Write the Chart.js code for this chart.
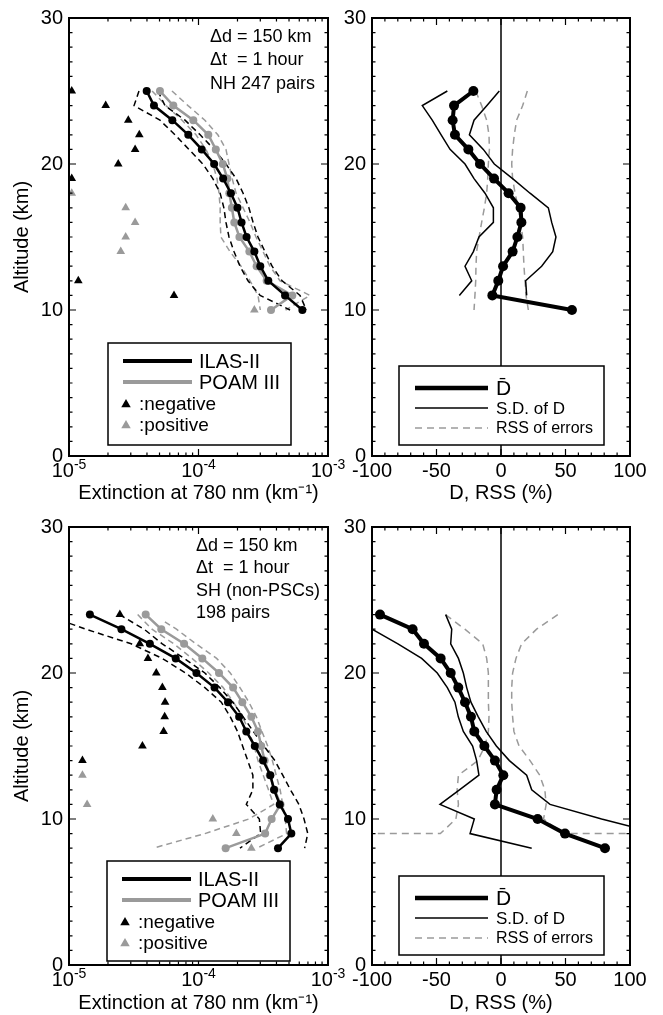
<!DOCTYPE html>
<html>
<head>
<meta charset="utf-8">
<script src="https://cdn.jsdelivr.net/npm/chart.js@4.4.1/dist/chart.umd.min.js"></script>
<style>
  body { margin: 0; background: #fff; }
  #wrap { position: relative; width: 663px; height: 1015px; overflow: hidden; }
  canvas { position: absolute; }
</style>
</head>
<body>
<div id="wrap">
  <canvas id="nhExt" width="350" height="510" style="left:0;top:0"></canvas>
  <canvas id="nhDiff" width="333" height="510" style="left:330px;top:0"></canvas>
  <canvas id="shExt" width="350" height="506" style="left:0;top:509px"></canvas>
  <canvas id="shDiff" width="333" height="506" style="left:330px;top:509px"></canvas>
</div>
<script>
// ---- NH extinction profiles (km^-1) ----
const altNH = [25, 24, 23, 22, 21, 20, 19, 18, 17, 16, 15, 14, 13, 12, 11, 10];
const ilasNH = [3.98e-5, 4.53e-5, 6.28e-5, 8.34e-5, 1.06e-4, 1.32e-4, 1.55e-4, 1.78e-4, 2.0e-4, 2.15e-4, 2.35e-4, 2.7e-4, 3.0e-4, 3.46e-4, 4.66e-4, 6.34e-4];
const poamNH = [5.04e-5, 6.39e-5, 9.12e-5, 1.19e-4, 1.36e-4, 1.54e-4, 1.67e-4, 1.73e-4, 1.81e-4, 1.89e-4, 2.07e-4, 2.47e-4, 2.81e-4, 3.36e-4, 5.3e-4, 3.63e-4];
const ilasLoNH = [3.47e-5, 3.18e-5, 5.04e-5, 6.58e-5, 8.44e-5, 1.08e-4, 1.29e-4, 1.47e-4, 1.57e-4, 1.63e-4, 1.72e-4, 1.88e-4, 2.09e-4, 2.41e-4, 2.99e-4, 5.09e-4];
const ilasHiNH = [4.86e-5, 5.51e-5, 7.87e-5, 1.03e-4, 1.32e-4, 1.63e-4, 1.95e-4, 2.21e-4, 2.45e-4, 2.64e-4, 2.88e-4, 3.26e-4, 3.70e-4, 4.42e-4, 6.08e-4, 6.8e-4];
const poamLoNH = [4.38e-5, 5.61e-5, 7.46e-5, 9.57e-5, 1.14e-4, 1.29e-4, 1.39e-4, 1.44e-4, 1.47e-4, 1.47e-4, 1.49e-4, 1.75e-4, 2.13e-4, 2.50e-4, 2.88e-4, 3.0e-4];
const poamHiNH = [6.24e-5, 8.3e-5, 1.12e-4, 1.41e-4, 1.63e-4, 1.72e-4, 1.82e-4, 1.95e-4, 2.21e-4, 2.50e-4, 2.78e-4, 3.15e-4, 3.56e-4, 4.26e-4, 7.26e-4, 4.7e-4];
const negAltNH = [25, 24, 23, 22, 21, 20, 19, 12, 11];
const negNH = [1.05e-5, 1.92e-5, 2.87e-5, 3.49e-5, 3.24e-5, 2.40e-5, 1.05e-5, 1.18e-5, 6.47e-5];
const posAltNH = [18, 17, 16, 15, 14, 10];
const posNH = [1.05e-5, 2.74e-5, 3.24e-5, 2.74e-5, 2.51e-5, 2.70e-4];

// ---- NH differences (%) ----
const altNHsd = [25, 24, 23, 22, 21, 20, 19, 18, 17, 16, 15, 14, 13, 12, 11];
const dbarNH = [-21.4, -36.4, -37.5, -35.7, -25.3, -16.3, -5.4, 5.9, 15.2, 15.8, 12.7, 9.0, 1.6, -2.1, -6.7, 55.0];
const sdLoNH = [-41.6, -61.0, -53.3, -46.4, -39.5, -27.9, -20.9, -12.4, -5.9, -5.9, -17.1, -21.4, -27.9, -22.7, -32.3];
const sdHiNH = [-1.3, -10.9, -20.9, -24.5, -13.7, -5.2, 9.0, 22.5, 36.7, 39.3, 42.6, 40.1, 31.5, 19.1, 19.9];
const rssLoNH = [-19.6, -15.0, -11.1, -9.3, -9.0, -9.8, -10.3, -11.1, -12.9, -15.0, -17.0, -18.9, -19.4, -19.6, -20.2, -20.9];
const rssHiNH = [20.4, 16.8, 12.1, 10.3, 9.0, 8.3, 9.0, 10.9, 13.4, 15.2, 16.8, 17.3, 17.8, 18.6, 19.4, 21.2];

// ---- SH (non-PSC) extinction profiles ----
const altSH = [24, 23, 22, 21, 20, 19, 18, 17, 16, 15, 14, 13, 12, 11, 10, 9, 8];
const ilasSH = [1.45e-5, 2.54e-5, 4.21e-5, 6.67e-5, 9.64e-5, 1.33e-4, 1.69e-4, 2.06e-4, 2.34e-4, 2.72e-4, 3.15e-4, 3.59e-4, 3.83e-4, 4.24e-4, 4.91e-4, 5.21e-4, 4.11e-4];
const poamSH = [3.91e-5, 5.16e-5, 7.74e-5, 1.07e-4, 1.44e-4, 1.85e-4, 2.18e-4, 2.56e-4, 2.88e-4, 3.05e-4, 3.24e-4, 3.55e-4, 3.87e-4, 4.3e-4, 3.67e-4, 3.27e-4, 1.62e-4];
const altSHlo = [23.4, 23, 22, 21, 20, 19, 18, 17, 16, 15, 14, 13, 12, 11, 10, 9, 8];
const ilasLoSH = [1.01e-5, 1.35e-5, 3.02e-5, 5.25e-5, 7.94e-5, 1.12e-4, 1.50e-4, 1.76e-4, 2.0e-4, 2.19e-4, 2.4e-4, 2.63e-4, 2.63e-4, 2.34e-4, 2.95e-4, 3.02e-4, 2.09e-4];
const ilasHiSH = [2.45e-5, 3.8e-5, 5.25e-5, 7.76e-5, 1.12e-4, 1.46e-4, 1.84e-4, 2.21e-4, 2.65e-4, 3.2e-4, 3.89e-4, 4.47e-4, 5.13e-4, 5.96e-4, 6.53e-4, 6.98e-4, 6.6e-4];
const poamLoSH = [3.39e-5, 4.37e-5, 6.46e-5, 8.91e-5, 1.20e-4, 1.55e-4, 1.86e-4, 2.19e-4, 2.45e-4, 2.69e-4, 2.88e-4, 3.16e-4, 3.47e-4, 3.80e-4, 2.45e-4, 1.12e-4, 4.47e-5];
const altSHhi = [23.5, 23, 22, 21, 20, 19, 18, 17, 16, 15, 14, 13, 12, 11, 10, 9, 8];
const poamHiSH = [5.5e-5, 6.76e-5, 9.55e-5, 1.38e-4, 1.76e-4, 2.09e-4, 2.45e-4, 2.8e-4, 3.09e-4, 3.42e-4, 3.72e-4, 3.98e-4, 4.27e-4, 4.47e-4, 4.68e-4, 4.79e-4, 2.82e-4];
const negAltSH = [24, 22, 21, 20, 19, 18, 17, 16, 15, 14];
const negSH = [2.47e-5, 3.52e-5, 4.07e-5, 4.72e-5, 5.26e-5, 5.52e-5, 5.48e-5, 5.38e-5, 3.69e-5, 1.27e-5];
const posAltSH = [13, 11, 10, 9, 8];
const posSH = [1.27e-5, 1.38e-5, 1.29e-4, 1.96e-4, 2.56e-4];

// ---- SH differences (%) ----
const dbarSH = [-93.8, -68.5, -59.7, -46.8, -39.0, -33.1, -27.9, -23.3, -20.7, -12.9, -4.7, 1.8, -3.4, -4.7, 28.4, 49.6, 80.6];
const altSHsdLo = [23, 22, 21, 20, 19, 18, 17, 16, 15, 14, 13, 12, 11, 10, 9, 8];
const sdLoSH = [-100, -79.9, -61.5, -49.4, -41.6, -35.7, -33.1, -29.2, -22.0, -18.9, -17.1, -32.2, -47.3, -20.7, -24.0, 23.8];
const altSHsdHi = [24, 23, 22, 21, 20, 19, 18, 17, 16, 15, 14, 13, 12, 11, 10, 9.5];
const sdHiSH = [-42.9, -38.2, -39.0, -33.0, -29.2, -26.6, -23.3, -17.6, -11.5, -3.6, 6.5, 19.9, 23.8, 38.0, 78.0, 100];
const altSHrss = [24, 23, 22, 21, 20, 19, 18, 17, 16, 15, 14, 13, 12, 11, 10, 9, 9];
const rssLoSH = [-43, -28, -14.2, -11.1, -9.8, -9.8, -9.8, -9.3, -9.8, -12.4, -18, -33, -34, -33, -35, -47, -100];
const rssHiSH = [44, 27.6, 16, 11.6, 9, 8.3, 8.3, 9, 10, 14, 22.5, 30, 34, 35, 33, 48, 100];

const FONT = "'Liberation Sans', Arial, Helvetica, sans-serif";
const GRAY = '#9a9a9a';
Chart.defaults.font.family = FONT;
Chart.defaults.color = '#000';

const SUP = { '-': '\u207B', '1': '\u00B9' };
const sup = s => String(s).split('').map(c => SUP[c] || c).join('');
const decadeOf = v => {
  const e = Math.log10(v);
  return Math.abs(e - Math.round(e)) < 1e-6 ? Math.round(e) : null;
};
const pts = (xs, ys) => xs.map((x, i) => ({ x, y: ys[i] }));

// inner tick marks: [value, isMajor]
const logTicks = [];
for (let e = -5; e < -3; e++) for (let m = 1; m < 10; m++) logTicks.push([m * Math.pow(10, e), m === 1]);
logTicks.push([1e-3, true]);
const pctTicks = [];
for (let v = -100; v <= 100; v += 10) pctTicks.push([v, v % 50 === 0]);

function tri(ctx, x, y, r) {
  ctx.beginPath();
  ctx.moveTo(x, y - r);
  ctx.lineTo(x + r * 0.95, y + r * 0.65);
  ctx.lineTo(x - r * 0.95, y + r * 0.65);
  ctx.closePath();
  ctx.fill();
}

const framePlugin = {
  id: 'frame',
  beforeDatasetsDraw(chart, args, o) {
    if (!o.zeroLine) return;
    const { ctx, chartArea: a, scales } = chart;
    const x0 = scales.x.getPixelForValue(0);
    ctx.save();
    ctx.strokeStyle = '#000';
    ctx.lineWidth = 1.5;
    ctx.beginPath();
    ctx.moveTo(x0, a.top);
    ctx.lineTo(x0, a.bottom);
    ctx.stroke();
    ctx.restore();
  },
  afterDatasetsDraw(chart, args, o) {
    const { ctx, chartArea: a, scales } = chart;
    ctx.save();
    ctx.strokeStyle = '#000';
    ctx.setLineDash([]);
    ctx.lineWidth = 1.2;
    ctx.beginPath();
    for (let v = 0; v <= 30; v++) {
      const y = scales.y.getPixelForValue(v);
      const len = v % 10 === 0 ? 7 : 3.5;
      ctx.moveTo(a.left, y); ctx.lineTo(a.left + len, y);
      ctx.moveTo(a.right, y); ctx.lineTo(a.right - len, y);
    }
    o.xTicks.forEach(([v, major]) => {
      const x = scales.x.getPixelForValue(v);
      const len = major ? 7 : 3.5;
      ctx.moveTo(x, a.bottom); ctx.lineTo(x, a.bottom - len);
      ctx.moveTo(x, a.top); ctx.lineTo(x, a.top + len);
    });
    ctx.stroke();
    ctx.lineWidth = 2;
    ctx.strokeRect(a.left, a.top, a.width, a.height);

    // decade labels written as 10 with a raised exponent
    if (o.decades) {
      ctx.fillStyle = '#000';
      ctx.textBaseline = 'alphabetic';
      ctx.textAlign = 'left';
      scales.x.ticks.forEach(t => {
        const e = decadeOf(t.value);
        if (e === null) return;
        const x = scales.x.getPixelForValue(t.value);
        const base = '10', exp = String(e);
        ctx.font = '20px ' + FONT;
        const wb = ctx.measureText(base).width;
        ctx.font = '14px ' + FONT;
        const we = ctx.measureText(exp).width;
        const x0 = x - (wb + we) / 2;
        ctx.font = '20px ' + FONT;
        ctx.fillText(base, x0, a.bottom + 21);
        ctx.font = '14px ' + FONT;
        ctx.fillText(exp, x0 + wb, a.bottom + 13);
      });
    }

    // campaign notes
    if (o.notes) {
      ctx.fillStyle = '#000';
      ctx.font = '18px ' + FONT;
      ctx.textBaseline = 'middle';
      ctx.textAlign = 'left';
      o.notes.lines.forEach((t, i) => ctx.fillText(t, a.left + o.notes.x, a.top + o.notes.y + i * o.notes.dy));
    }

    // boxed legend
    const lg = o.legend;
    const bx = a.left + lg.x, by = a.top + lg.y;
    ctx.fillStyle = '#fff';
    ctx.fillRect(bx, by, lg.w, lg.h);
    ctx.lineWidth = 1.5;
    ctx.strokeRect(bx, by, lg.w, lg.h);
    lg.rows.forEach(r => {
      const y = by + r.dy;
      if (r.tri) {
        ctx.fillStyle = r.color;
        tri(ctx, bx + r.sx, y, 5);
      } else {
        ctx.strokeStyle = r.color;
        ctx.lineWidth = r.width;
        ctx.setLineDash(r.dash || []);
        ctx.beginPath();
        ctx.moveTo(bx + lg.l0, y);
        ctx.lineTo(bx + lg.l1, y);
        ctx.stroke();
        ctx.setLineDash([]);
      }
      ctx.fillStyle = '#000';
      ctx.font = r.font + ' ' + FONT;
      ctx.textBaseline = 'middle';
      ctx.textAlign = 'left';
      ctx.fillText(r.label, bx + r.tx, y + 1);
    });
    ctx.restore();
  }
};

const line = (data, color, width, dash, radius) => ({
  data, showLine: true, borderColor: color, backgroundColor: color, borderWidth: width,
  borderDash: dash || [], pointRadius: radius || 0, pointBorderWidth: 0, pointBackgroundColor: color,
  tension: 0, clip: 0
});
const marks = (data, color) => ({
  data, showLine: false, pointStyle: 'triangle', pointRadius: 5, pointBorderWidth: 0,
  pointBackgroundColor: color, backgroundColor: color, borderColor: color, clip: 0
});

function makeChart(id, datasets, xScale, yTitle, geom, frame) {
  const yScale = {
    min: 0, max: 30,
    grid: { display: false, drawTicks: false }, border: { display: false },
    ticks: { stepSize: 10, padding: 6, font: { size: 20 } },
    afterFit: s => { s.width = geom.yWidth; }
  };
  if (yTitle) yScale.title = { display: true, text: yTitle, font: { size: 20 }, padding: { top: 10, bottom: 0 } };
  return new Chart(document.getElementById(id), {
    type: 'scatter',
    data: { datasets },
    options: {
      responsive: false, animation: false, events: [], devicePixelRatio: 1,
      layout: { padding: { left: 0, right: geom.right, top: 14, bottom: 0 } },
      scales: { x: Object.assign({ afterFit: s => { s.height = geom.xHeight; } }, xScale), y: yScale },
      plugins: { legend: { display: false }, tooltip: { enabled: false }, frame }
    },
    plugins: [framePlugin]
  });
}

const extAxis = titlePad => ({
  type: 'logarithmic', min: 1e-5, max: 1e-3,
  grid: { display: false, drawTicks: false }, border: { display: false },
  ticks: { autoSkip: false, maxRotation: 0, padding: 3, font: { size: 20 }, callback: () => '' },
  title: { display: true, text: 'Extinction at 780 nm (km' + sup('-1') + ')', font: { size: 20 }, padding: { top: 0, bottom: titlePad } }
});
const pctAxis = titlePad => ({
  type: 'linear', min: -100, max: 100,
  grid: { display: false, drawTicks: false }, border: { display: false },
  ticks: { stepSize: 50, autoSkip: false, maxRotation: 0, padding: 3, font: { size: 20 } },
  title: { display: true, text: 'D, RSS (%)', font: { size: 20 }, padding: { top: 0, bottom: titlePad } }
});

const extLegend = {
  x: 39, y: 325, w: 183, h: 102, l0: 15, l1: 84,
  rows: [
    { dy: 18, color: '#000', width: 4, label: 'ILAS-II', tx: 91, font: '20px' },
    { dy: 39, color: GRAY, width: 4, label: 'POAM III', tx: 91, font: '20px' },
    { dy: 61, tri: true, color: '#000', sx: 18, label: ':negative', tx: 31, font: '19px' },
    { dy: 82, tri: true, color: GRAY, sx: 18, label: ':positive', tx: 31, font: '19px' }
  ]
};
const pctLegend = y => ({
  x: 27, y, w: 205, h: 79, l0: 16, l1: 89,
  rows: [
    { dy: 22, color: '#000', width: 4.5, label: 'D\u0304', tx: 97, font: '21px' },
    { dy: 42, color: '#000', width: 1.5, label: 'S.D. of D', tx: 97, font: '17px' },
    { dy: 62, color: GRAY, width: 1.5, dash: [7, 5], label: 'RSS of errors', tx: 97, font: '16px' }
  ]
});

function extSets(d) {
  return [
    line(pts(d.ilas, d.alt), '#000', 2.5, null, 4),
    line(pts(d.poam, d.alt), GRAY, 2.5, null, 4),
    line(pts(d.ilasLo, d.altLo), '#000', 1.5, [6, 4]),
    line(pts(d.ilasHi, d.alt), '#000', 1.5, [6, 4]),
    line(pts(d.poamLo, d.alt), GRAY, 1.5, [6, 4]),
    line(pts(d.poamHi, d.altHi), GRAY, 1.5, [6, 4]),
    marks(pts(d.neg, d.negAlt), '#000'),
    marks(pts(d.pos, d.posAlt), GRAY)
  ];
}

makeChart('nhExt', extSets({
  alt: altNH, altLo: altNH, altHi: altNH, ilas: ilasNH, poam: poamNH,
  ilasLo: ilasLoNH, ilasHi: ilasHiNH, poamLo: poamLoNH, poamHi: poamHiNH,
  neg: negNH, negAlt: negAltNH, pos: posNH, posAlt: posAltNH
}), extAxis(5), 'Altitude (km)', { yWidth: 69, xHeight: 54, right: 22 }, {
  xTicks: logTicks, decades: true, legend: extLegend,
  notes: { x: 141, y: 19, dy: 23.5, lines: ['\u0394d = 150 km', '\u0394t  = 1 hour', 'NH 247 pairs'] }
});

makeChart('nhDiff', [
  line(pts(dbarNH, altNH), '#000', 4, null, 5),
  line(pts(sdLoNH, altNHsd), '#000', 1.5),
  line(pts(sdHiNH, altNHsd), '#000', 1.5),
  line(pts(rssLoNH, altNH), GRAY, 1.5, [7, 5]),
  line(pts(rssHiNH, altNH), GRAY, 1.5, [7, 5])
], pctAxis(5), null, { yWidth: 42, xHeight: 54, right: 33 }, {
  xTicks: pctTicks, zeroLine: true, legend: pctLegend(348)
});

makeChart('shExt', extSets({
  alt: altSH, altLo: altSHlo, altHi: altSHhi, ilas: ilasSH, poam: poamSH,
  ilasLo: ilasLoSH, ilasHi: ilasHiSH, poamLo: poamLoSH, poamHi: poamHiSH,
  neg: negSH, negAlt: negAltSH, pos: posSH, posAlt: posAltSH
}), extAxis(0), 'Altitude (km)', { yWidth: 69, xHeight: 50, right: 22 }, {
  xTicks: logTicks, decades: true, legend: Object.assign({}, extLegend, { x: 38, y: 334, h: 100 }),
  notes: { x: 127, y: 19, dy: 22.5, lines: ['\u0394d = 150 km', '\u0394t  = 1 hour', 'SH (non-PSCs)', '198 pairs'] }
});

makeChart('shDiff', [
  line(pts(dbarSH, altSH), '#000', 4, null, 5),
  line(pts(sdLoSH, altSHsdLo), '#000', 1.5),
  line(pts(sdHiSH, altSHsdHi), '#000', 1.5),
  line(pts(rssLoSH, altSHrss), GRAY, 1.5, [7, 5]),
  line(pts(rssHiSH, altSHrss), GRAY, 1.5, [7, 5])
], pctAxis(0), null, { yWidth: 42, xHeight: 50, right: 33 }, {
  xTicks: pctTicks, zeroLine: true, legend: pctLegend(349)
});
</script>
</body>
</html>
